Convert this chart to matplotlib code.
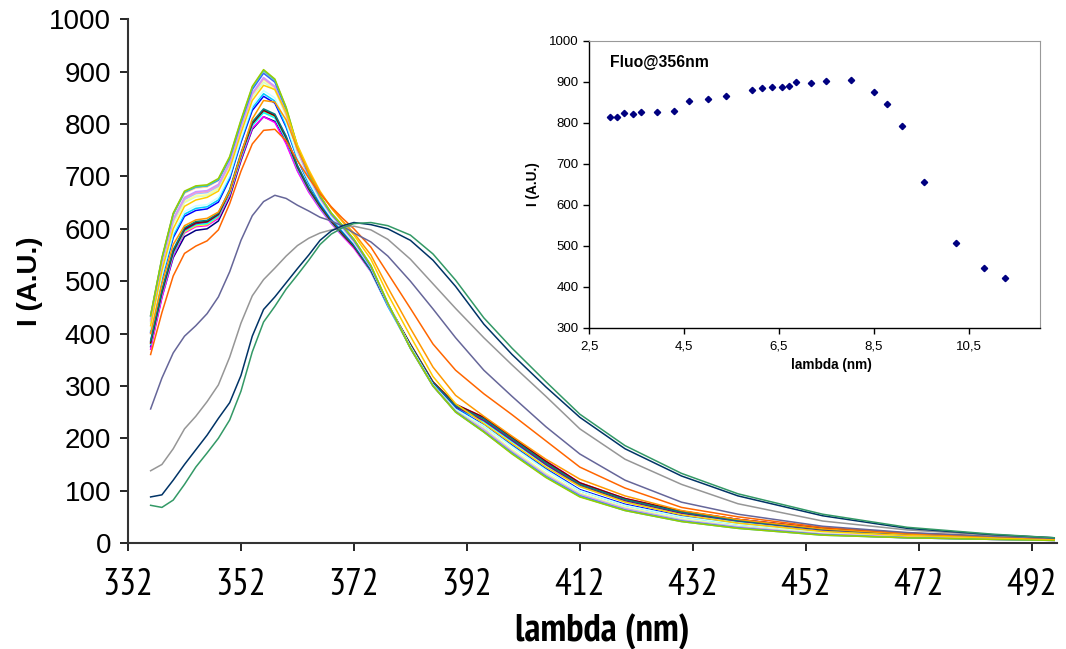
import matplotlib.pyplot as plt
from matplotlib import font_manager

plt.rcParams['font.family'] = ['Liberation Sans', 'DejaVu Sans']

# the x axis text in the original is a narrow Arial; take the first narrow face we have
installed = {f.name for f in font_manager.fontManager.ttflist}
narrow_pref = ['Liberation Sans Narrow', 'Arial Narrow', 'PT Sans Narrow', 'Archivo Narrow',
               'Roboto Condensed', 'Open Sans Condensed', 'Fira Sans Condensed', 'IBM Plex Sans Condensed']
narrow = [n for n in narrow_pref if n in installed][:1] + ['Liberation Sans', 'DejaVu Sans']

# emission spectra, one per sample
wavelength = [336, 338, 340, 342, 344, 346, 348, 350, 352, 354, 356, 358, 360, 362, 364, 366, 368, 370, 372,
              375, 378, 382, 386, 390, 395, 400, 406, 412, 420, 430, 440, 455, 470, 485, 496]

s01 = [375, 470, 545, 585, 597, 600, 615, 660, 730, 790, 814, 805, 765, 712, 672, 640, 612, 588, 565,
       520, 455, 378, 305, 262, 238, 200, 155, 114, 84, 60, 45, 27, 18, 12, 8]
s02 = [370, 468, 548, 592, 604, 606, 620, 664, 733, 792, 814, 803, 762, 710, 670, 638, 610, 586, 563,
       518, 452, 376, 306, 264, 240, 202, 157, 115, 85, 61, 45, 28, 18, 12, 8]
s03 = [381, 478, 554, 594, 606, 608, 623, 668, 738, 798, 823, 813, 772, 717, 675, 642, 614, 590, 567,
       521, 455, 377, 304, 261, 235, 197, 152, 111, 82, 58, 43, 26, 17, 12, 8]
s04 = [379, 476, 552, 596, 608, 610, 624, 668, 737, 797, 822, 812, 770, 715, 674, 641, 612, 588, 566,
       519, 452, 374, 302, 258, 232, 194, 149, 108, 79, 56, 41, 25, 16, 11, 7]
s05 = [384, 481, 558, 598, 610, 613, 627, 672, 742, 802, 827, 817, 775, 719, 677, 644, 615, 591, 567,
       522, 455, 377, 304, 260, 234, 196, 150, 110, 81, 57, 42, 25, 17, 11, 8]
s06 = [382, 479, 556, 600, 612, 614, 628, 672, 741, 801, 826, 816, 774, 718, 676, 643, 614, 589, 566,
       521, 456, 380, 308, 265, 240, 202, 156, 115, 85, 61, 45, 28, 18, 12, 8]
s07 = [386, 483, 560, 602, 614, 616, 630, 675, 745, 804, 829, 819, 777, 721, 679, 646, 617, 592, 568,
       522, 456, 378, 306, 262, 237, 199, 153, 112, 83, 59, 43, 26, 17, 12, 8]
s08 = [402, 504, 583, 624, 635, 638, 651, 695, 765, 826, 853, 840, 794, 733, 687, 650, 620, 596, 572,
       525, 456, 375, 303, 257, 226, 187, 142, 102, 74, 52, 37, 22, 14, 10, 7]
s09 = [405, 507, 587, 628, 639, 642, 655, 699, 769, 831, 858, 844, 797, 734, 688, 651, 621, 597, 573,
       525, 456, 375, 302, 256, 224, 185, 140, 100, 72, 50, 36, 21, 14, 9, 6]
s10 = [408, 511, 592, 633, 644, 646, 660, 703, 773, 835, 864, 850, 802, 737, 691, 653, 622, 598, 573,
       526, 457, 375, 302, 255, 224, 184, 139, 100, 72, 50, 36, 20, 14, 9, 6]
s11 = [420, 526, 609, 650, 661, 663, 676, 719, 789, 851, 880, 865, 815, 747, 698, 657, 626, 602, 576,
       528, 457, 374, 301, 253, 219, 178, 133, 95, 68, 46, 32, 18, 12, 8, 6]
s12 = [422, 528, 611, 652, 663, 665, 678, 721, 792, 854, 884, 868, 817, 748, 699, 658, 627, 603, 577,
       529, 458, 374, 301, 253, 219, 178, 133, 95, 68, 46, 32, 18, 12, 8, 6]
s13 = [424, 532, 615, 656, 667, 669, 681, 724, 794, 857, 887, 871, 820, 750, 700, 659, 627, 603, 577,
       528, 457, 373, 301, 252, 217, 175, 130, 93, 66, 44, 31, 17, 11, 8, 6]
s14 = [426, 534, 617, 658, 669, 671, 683, 725, 795, 857, 887, 870, 819, 749, 699, 658, 626, 602, 576,
       527, 456, 372, 300, 251, 216, 174, 129, 92, 65, 43, 30, 17, 11, 7, 5]
s15 = [428, 536, 619, 660, 671, 673, 685, 727, 797, 859, 889, 872, 821, 751, 701, 660, 628, 603, 577,
       528, 456, 372, 300, 251, 215, 173, 128, 91, 64, 43, 30, 16, 11, 7, 5]
s16 = [432, 541, 626, 668, 678, 680, 692, 734, 804, 868, 900, 882, 829, 756, 704, 662, 629, 605, 579,
       529, 458, 372, 300, 251, 213, 172, 127, 89, 63, 42, 29, 16, 10, 7, 5]
s17 = [434, 543, 628, 670, 680, 682, 693, 734, 803, 866, 897, 880, 828, 755, 703, 661, 628, 604, 578,
       528, 457, 372, 300, 251, 213, 172, 127, 90, 63, 42, 29, 16, 10, 7, 5]
s18 = [433, 543, 628, 670, 680, 682, 694, 736, 806, 870, 902, 884, 831, 757, 705, 663, 630, 606, 580,
       530, 458, 372, 300, 250, 212, 171, 126, 89, 62, 41, 28, 15, 10, 7, 5]
s19 = [435, 545, 630, 672, 682, 684, 696, 738, 808, 872, 904, 886, 832, 758, 706, 663, 630, 606, 580,
       530, 458, 372, 300, 250, 212, 170, 125, 88, 62, 41, 28, 15, 10, 7, 5]
s20 = [415, 520, 600, 643, 655, 660, 672, 714, 783, 845, 874, 866, 822, 760, 713, 672, 640, 613, 588,
       542, 475, 395, 318, 266, 228, 190, 145, 108, 78, 54, 38, 22, 14, 10, 7]
s21 = [400, 495, 570, 606, 617, 620, 632, 672, 742, 810, 845, 842, 808, 752, 708, 670, 640, 615, 592,
       550, 488, 410, 336, 282, 242, 204, 160, 122, 90, 62, 45, 27, 17, 12, 8]
s22 = [360, 440, 510, 553, 567, 577, 598, 648, 710, 762, 788, 790, 768, 730, 697, 667, 642, 620, 600,
       565, 515, 448, 380, 330, 285, 245, 195, 145, 105, 68, 50, 30, 19, 13, 9]
s23 = [256, 315, 363, 395, 415, 438, 470, 518, 578, 625, 652, 664, 658, 645, 634, 622, 615, 605, 592,
       575, 548, 500, 447, 392, 330, 280, 222, 170, 120, 78, 55, 32, 20, 13, 9]
s24 = [138, 150, 180, 218, 242, 270, 302, 355, 420, 472, 503, 525, 548, 568, 582, 592, 598, 603, 605,
       598, 580, 542, 495, 448, 392, 340, 280, 218, 160, 112, 75, 42, 25, 15, 10]
s25 = [88, 92, 120, 150, 178, 206, 238, 268, 320, 395, 446, 470, 497, 524, 550, 578, 596, 606, 612,
       608, 600, 578, 540, 490, 418, 360, 298, 240, 180, 128, 90, 52, 28, 16, 10]
s26 = [72, 68, 82, 112, 145, 172, 200, 235, 290, 365, 422, 452, 485, 512, 540, 570, 590, 602, 610,
       612, 606, 588, 552, 502, 430, 372, 308, 246, 186, 133, 94, 55, 30, 17, 10]

spectra = [s01, s02, s03, s04, s05, s06, s07, s08, s09, s10, s11, s12, s13,
           s14, s15, s16, s17, s18, s19, s20, s21, s22, s23, s24, s25, s26]

# excel default series colours
colors = ['#000080', '#FF00FF', '#FFFF00', '#00FFFF', '#800080', '#800000', '#008080',
          '#0000FF', '#00CCFF', '#CCFFFF', '#CCFFCC', '#FFFF99', '#99CCFF', '#FF99CC',
          '#CC99FF', '#FFCC99', '#3366FF', '#33CCCC', '#99CC00', '#FFCC00', '#FF9900',
          '#FF6600', '#666699', '#969696', '#003366', '#339966']

# inset: intensity at 356 nm
inset_x = [2.93, 3.08, 3.23, 3.43, 3.60, 3.92, 4.29, 4.60, 5.01, 5.38, 5.94, 6.14, 6.35,
           6.56, 6.72, 6.86, 7.17, 7.48, 8.02, 8.51, 8.77, 9.09, 9.55, 10.23, 10.82, 11.26]
fluo356 = [814, 814, 823, 822, 827, 826, 829, 853, 858, 864, 880, 884, 887,
           887, 889, 900, 897, 902, 904, 874, 845, 791, 655, 506, 446, 422]
inset_xticks = [2.5, 4.5, 6.5, 8.5, 10.5]
inset_xticklabels = ['2,5', '4,5', '6,5', '8,5', '10,5']

fig = plt.figure(figsize=(10.66, 6.49), dpi=100)

ax = fig.add_axes([0.1201, 0.1633, 0.8715, 0.8069])
for vals, c in zip(spectra, colors):
    ax.plot(wavelength, vals, color=c, lw=1.1)

ax.set_xlim(332, 496.5)
ax.set_ylim(0, 1000)
ax.set_xticks(range(332, 493, 20))
ax.set_yticks(range(0, 1001, 100))
ax.tick_params(axis='both', direction='out', length=6, width=1.2, colors='black')
ax.tick_params(axis='x', pad=12)
ax.tick_params(axis='y', pad=6, labelsize=20)
for lab in ax.get_xticklabels():
    lab.set_family(narrow)
    lab.set_fontsize(27)
for side in ['top', 'right']:
    ax.spines[side].set_visible(False)
for side in ['left', 'bottom']:
    ax.spines[side].set_linewidth(1.5)
    ax.spines[side].set_color('#333333')
ax.set_xlabel('lambda (nm)', fontsize=28, fontweight='bold', family=narrow)
ax.xaxis.set_label_coords(0.51, -0.135)
ax.set_ylabel('I (A.U.)', fontsize=20, fontweight='bold')
ax.yaxis.set_label_coords(-0.092, 0.5)

# inset plot
axi = fig.add_axes([0.5528, 0.4951, 0.4228, 0.4422])
axi.set_facecolor('white')
axi.plot(inset_x, fluo356, linestyle='none', marker='D', ms=3.2, color='#000080')
axi.set_xlim(2.5, 12.0)
axi.set_ylim(300, 1000)
axi.set_xticks(inset_xticks)
axi.set_xticklabels(inset_xticklabels)
axi.set_yticks(range(300, 1001, 100))
axi.tick_params(axis='both', direction='out', length=4, width=1, labelsize=9.5)
axi.tick_params(axis='x', pad=5)
for side in ['top', 'right']:
    axi.spines[side].set_color('#999999')
    axi.spines[side].set_linewidth(0.8)
for side in ['left', 'bottom']:
    axi.spines[side].set_color('black')
    axi.spines[side].set_linewidth(1)
axi.set_xlabel('lambda (nm)', fontsize=9.8, fontweight='bold')
axi.xaxis.set_label_coords(0.537, -0.105)
axi.set_ylabel('I (A.U.)', fontsize=9.8, fontweight='bold')
axi.yaxis.set_label_coords(-0.11, 0.5)
axi.text(0.045, 0.925, 'Fluo@356nm', transform=axi.transAxes, fontsize=11.3,
         fontweight='bold', va='center', ha='left')

fig.savefig('out.png', dpi=100)
